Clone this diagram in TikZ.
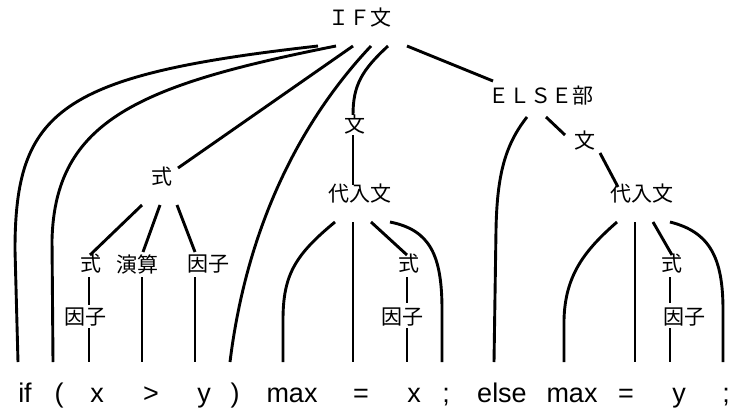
\documentclass[tikz,border=0pt]{standalone}
\usepackage{fontspec}
\setmainfont{Liberation Sans}
\newfontfamily\jfont{Noto Sans CJK JP}

\begin{document}
\begin{tikzpicture}[
    x=1pt, y=-1pt,
    lab/.style={inner sep=0pt, font=\jfont\fontsize{21}{21}\selectfont},
    tok/.style={inner sep=0pt, anchor=base, font=\fontsize{27}{27}\selectfont},
    ln/.style={line width=2.9pt},
  ]
  \useasboundingbox (0,0) rectangle (730,410);

  % nonterminals
  \node[lab] (ifst)  at (360,18)  {ＩＦ文};
  \node[lab] (expr)  at (162,177) {式};
  \node[lab] (stmta) at (355,125) {文};
  \node[lab] (elsep) at (541,96)  {ＥＬＳＥ部};
  \node[lab] (stmtb) at (585,141) {文};
  \node[lab] (assa)  at (360,194) {代入文};
  \node[lab] (assb)  at (642,194) {代入文};
  \node[lab] (expra) at (91,264)  {式};
  \node[lab] (opa)   at (137,264) {演算};
  \node[lab] (faca)  at (208,264) {因子};
  \node[lab] (facx)  at (85,317)  {因子};
  \node[lab] (exprb) at (409,264) {式};
  \node[lab] (facb)  at (402,317) {因子};
  \node[lab] (exprc) at (672,264) {式};
  \node[lab] (facc)  at (684,317) {因子};

  % tokens
  \node[tok] (tif)   at (25,402)  {if};
  \node[tok] (tlp)   at (59,402)  {(};
  \node[tok] (txa)   at (97,402)  {x};
  \node[tok] (tgt)   at (151,402) {>};
  \node[tok] (tya)   at (204,402) {y};
  \node[tok] (trp)   at (235,402) {)};
  \node[tok] (tmaxa) at (292,402) {max};
  \node[tok] (teqa)  at (361,402) {=};
  \node[tok] (txb)   at (414,402) {x};
  \node[tok] (tsca)  at (446,402) {;};
  \node[tok] (telse) at (502,402) {else};
  \node[tok] (tmaxb) at (572,402) {max};
  \node[tok] (teqb)  at (626,402) {=};
  \node[tok] (tyb)   at (679,402) {y};
  \node[tok] (tscb)  at (726,402) {;};

  % IF文
  \draw[ln] ([shift={(-42,28)}]ifst.center) .. controls (60,75) and (15,110) .. (15,250) -- ([shift={(-7,-40)}]tif.base);
  \draw[ln] ([shift={(-24,28)}]ifst.center) .. controls (140,85) and (55,120) .. (52,240) -- ([shift={(-6,-40)}]tlp.base);
  \draw[ln] ([shift={(-7,28)}]ifst.center) -- ([shift={(16,-9)}]expr.center);
  \draw[ln] ([shift={(11,28)}]ifst.center) .. controls (320,100) and (250,200) .. ([shift={(-5,-40)}]trp.base);
  \draw[ln] ([shift={(28,28)}]ifst.center) .. controls (362,70) and (353,85) .. ([shift={(-2,-10)}]stmta.center);
  \draw[ln] ([shift={(47,28)}]ifst.center) -- ([shift={(-48,-15)}]elsep.center);

  % 式
  \draw[ln] ([shift={(-20,28)}]expr.center) -- ([shift={(-1,-9)}]expra.center);
  \draw[ln] ([shift={(-2,28)}]expr.center) -- ([shift={(6,-12)}]opa.center);
  \draw[ln] ([shift={(15,28)}]expr.center) -- ([shift={(-13,-12)}]faca.center);
  \draw[ln] ([shift={(-2,13)}]expra.center) -- ([shift={(4,-12)}]facx.center);
  \draw[ln] ([shift={(4,11)}]facx.center) -- ([shift={(-8,-40)}]txa.base);
  \draw[ln] ([shift={(5,13)}]opa.center) -- ([shift={(-9,-40)}]tgt.base);
  \draw[ln] ([shift={(-13,13)}]faca.center) -- ([shift={(-9,-40)}]tya.base);

  % then part
  \draw[ln] ([shift={(-2,10)}]stmta.center) -- ([shift={(-7,-9)}]assa.center);
  \draw[ln] ([shift={(-25,28)}]assa.center) .. controls (295,255) and (283,275) .. (283,320) -- ([shift={(-9,-40)}]tmaxa.base);
  \draw[ln] ([shift={(-7,28)}]assa.center) -- ([shift={(-8,-40)}]teqa.base);
  \draw[ln] ([shift={(11,28)}]assa.center) -- ([shift={(-2,-9)}]exprb.center);
  \draw[ln] ([shift={(30,28)}]assa.center) .. controls (430,230) and (442,255) .. (442,310) -- ([shift={(-4,-40)}]tsca.base);
  \draw[ln] ([shift={(-2,13)}]exprb.center) -- ([shift={(5,-14)}]facb.center);
  \draw[ln] ([shift={(5,11)}]facb.center) -- ([shift={(-7,-40)}]txb.base);

  % ELSE部
  \draw[ln] ([shift={(-14,21)}]elsep.center) .. controls (505,145) and (497,175) .. (496,230) -- ([shift={(-8,-40)}]telse.base);
  \draw[ln] ([shift={(5,21)}]elsep.center) -- ([shift={(-20,-6)}]stmtb.center);
  \draw[ln] ([shift={(15,12)}]stmtb.center) -- ([shift={(-24,-7)}]assb.center);
  \draw[ln] ([shift={(-25,28)}]assb.center) .. controls (585,250) and (565,275) .. (564,320) -- ([shift={(-8,-40)}]tmaxb.base);
  \draw[ln] ([shift={(-7,28)}]assb.center) -- ([shift={(9,-40)}]teqb.base);
  \draw[ln] ([shift={(11,28)}]assb.center) -- ([shift={(0,-9)}]exprc.center);
  \draw[ln] ([shift={(28,28)}]assb.center) .. controls (710,232) and (723,258) .. (723,310) -- ([shift={(-3,-40)}]tscb.base);
  \draw[ln] ([shift={(-2,13)}]exprc.center) -- ([shift={(-14,-14)}]facc.center);
  \draw[ln] ([shift={(-14,11)}]facc.center) -- ([shift={(-9,-40)}]tyb.base);
\end{tikzpicture}
\end{document}
